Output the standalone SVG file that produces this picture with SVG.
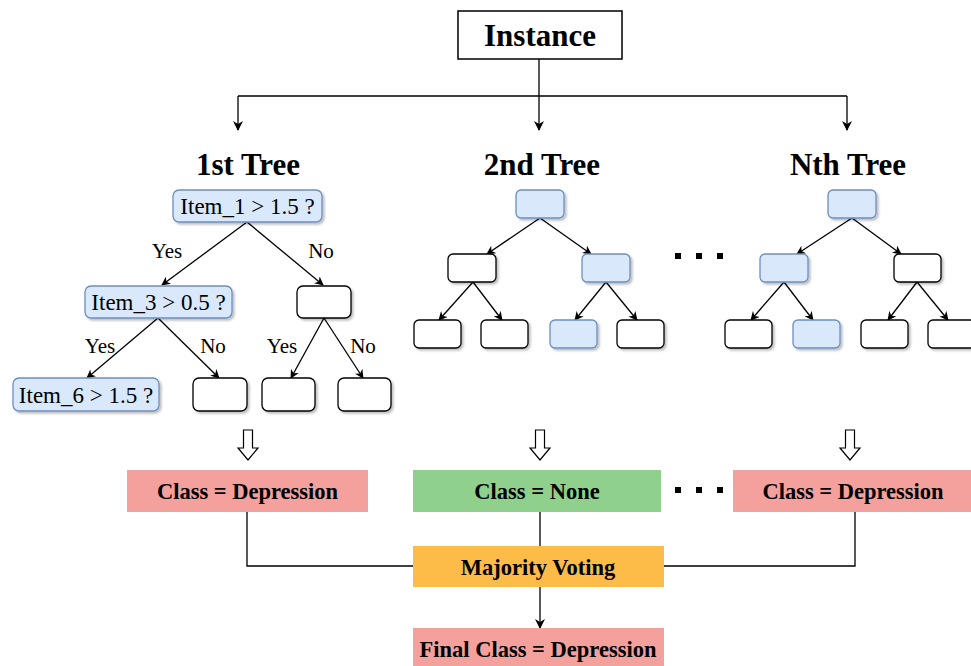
<svg xmlns="http://www.w3.org/2000/svg" width="971" height="666" viewBox="0 0 971 666">
<defs>
<filter id="sh" x="-20%" y="-20%" width="150%" height="150%">
<feDropShadow dx="2" dy="2" stdDeviation="1" flood-color="#000" flood-opacity="0.25"/>
</filter>
<marker id="ar" viewBox="0 0 10 10" refX="9" refY="5" markerWidth="10" markerHeight="10" markerUnits="userSpaceOnUse" orient="auto">
<path d="M0,0 L10,5 L0,10 L3,5 Z" fill="#000"/>
</marker>
<marker id="ar2" viewBox="0 0 10 10" refX="9" refY="5" markerWidth="9" markerHeight="9" markerUnits="userSpaceOnUse" orient="auto">
<path d="M0,0 L10,5 L0,10 L3,5 Z" fill="#000"/>
</marker>
</defs>
<style>
text{font-family:"Liberation Serif","Times New Roman",serif;fill:#000}
.title{font-size:31px;font-weight:bold;text-anchor:middle}
.q{font-size:23px;text-anchor:middle}
.lbl{font-size:21px;text-anchor:middle}
.cls{font-size:22.5px;font-weight:bold;text-anchor:middle}
.blue{fill:#dae8fc;stroke:#6c8ebf;stroke-width:1.3;filter:url(#sh)}
.white{fill:#fff;stroke:#000;stroke-width:1.3;filter:url(#sh)}
.edge{fill:none;stroke:#000;stroke-width:1.3;marker-end:url(#ar2)}
.line{fill:none;stroke:#000;stroke-width:1.3}
.hollow{fill:#fff;stroke:#000;stroke-width:1.2}
.dot{fill:#000}
</style>
<rect width="971" height="666" fill="#fff"/>

<g id="instance">
<rect x="458" y="11" width="164" height="48" fill="#fff" stroke="#000" stroke-width="1.5"/>
<text x="540" y="46" font-size="31" font-weight="bold" text-anchor="middle">Instance</text>
</g>

<g id="titles">
<text class="title" x="248" y="175">1st Tree</text>
<text class="title" x="542" y="175">2nd Tree</text>
<text class="title" x="848" y="175">Nth Tree</text>
</g>

<g id="connectors">
<path class="line" d="M539,59 V96 M238,96 H847"/>
<path class="line" d="M238,96 V130" marker-end="url(#ar)"/>
<path class="line" d="M539,96 V130" marker-end="url(#ar)"/>
<path class="line" d="M847,96 V130" marker-end="url(#ar)"/>
<!-- tree 1 -->
<path class="edge" d="M247,222 L162,285"/>
<path class="edge" d="M247,222 L323,285"/>
<path class="edge" d="M158,318 L87,378"/>
<path class="edge" d="M158,318 L219,378"/>
<path class="edge" d="M324,318 L291,378"/>
<path class="edge" d="M324,318 L363,378"/>
<!-- tree 2 -->
<path class="edge" d="M540,218 L487,254"/>
<path class="edge" d="M540,218 L591,254"/>
<path class="edge" d="M473,282 L439,320"/>
<path class="edge" d="M473,282 L502,320"/>
<path class="edge" d="M606,282 L575,320"/>
<path class="edge" d="M606,282 L637,320"/>
<!-- tree N -->
<path class="edge" d="M852,218 L797,254"/>
<path class="edge" d="M852,218 L901,254"/>
<path class="edge" d="M784,282 L751,320"/>
<path class="edge" d="M784,282 L813,320"/>
<path class="edge" d="M917,282 L888,320"/>
<path class="edge" d="M917,282 L948,320"/>
<!-- voting -->
<path class="line" d="M247,512 V566 H413"/>
<path class="line" d="M540,512 V546"/>
<path class="line" d="M855,512 V566 H664"/>
<path class="line" d="M540,587 V628" marker-end="url(#ar)"/>
</g>

<g id="edge-labels">
<text class="lbl" x="167" y="258">Yes</text>
<text class="lbl" x="321" y="258">No</text>
<text class="lbl" x="100" y="353">Yes</text>
<text class="lbl" x="213" y="353">No</text>
<text class="lbl" x="282" y="353">Yes</text>
<text class="lbl" x="363" y="353">No</text>
</g>

<g id="tree1">
<g id="t1-item1"><rect class="blue" x="173" y="190" width="149" height="32" rx="6"/><text class="q" x="247.5" y="214">Item_1 &gt; 1.5 ?</text></g>
<g id="t1-item3"><rect class="blue" x="85" y="286" width="147" height="32" rx="6"/><text class="q" x="158.5" y="310">Item_3 &gt; 0.5 ?</text></g>
<g id="t1-no"><rect class="white" x="297" y="286" width="54" height="32" rx="6"/></g>
<g id="t1-item6"><rect class="blue" x="13" y="378" width="146" height="33" rx="6"/><text class="q" x="86" y="402.5">Item_6 &gt; 1.5 ?</text></g>
<g id="t1-l2"><rect class="white" x="193" y="378" width="54" height="33" rx="6"/></g>
<g id="t1-l3"><rect class="white" x="262" y="378" width="53" height="33" rx="6"/></g>
<g id="t1-l4"><rect class="white" x="338" y="378" width="53" height="33" rx="6"/></g>
</g>

<g id="tree2">
<g id="t2-root"><rect class="blue" x="516" y="190" width="48" height="28" rx="5"/></g>
<g id="t2-a"><rect class="white" x="448" y="254" width="48" height="28" rx="5"/></g>
<g id="t2-b"><rect class="blue" x="582" y="254" width="48" height="28" rx="5"/></g>
<g id="t2-c"><rect class="white" x="414" y="320" width="47" height="28" rx="5"/></g>
<g id="t2-d"><rect class="white" x="481" y="320" width="47" height="28" rx="5"/></g>
<g id="t2-e"><rect class="blue" x="550" y="320" width="47" height="28" rx="5"/></g>
<g id="t2-f"><rect class="white" x="617" y="320" width="47" height="28" rx="5"/></g>
</g>

<g id="dots1">
<rect class="dot" x="675" y="253" width="6" height="6"/>
<rect class="dot" x="696" y="253" width="6" height="6"/>
<rect class="dot" x="717" y="253" width="6" height="6"/>
</g>

<g id="treeN">
<g id="tn-root"><rect class="blue" x="828" y="190" width="48" height="28" rx="5"/></g>
<g id="tn-a"><rect class="blue" x="760" y="254" width="48" height="28" rx="5"/></g>
<g id="tn-b"><rect class="white" x="894" y="254" width="47" height="28" rx="5"/></g>
<g id="tn-c"><rect class="white" x="725" y="320" width="47" height="28" rx="5"/></g>
<g id="tn-d"><rect class="blue" x="793" y="320" width="47" height="28" rx="5"/></g>
<g id="tn-e"><rect class="white" x="861" y="320" width="47" height="28" rx="5"/></g>
<g id="tn-f"><rect class="white" x="928" y="320" width="47" height="28" rx="5"/></g>
</g>

<g id="hollow-arrows">
<path class="hollow" d="M243.5,430 H252.5 V448 H258 L248,460 L238,448 H243.5 Z"/>
<path class="hollow" d="M535.5,430 H544.5 V448 H550 L540,460 L530,448 H535.5 Z"/>
<path class="hollow" d="M845.5,430 H854.5 V448 H860 L850,460 L840,448 H845.5 Z"/>
</g>

<g id="class1"><rect x="127" y="470" width="241" height="42" fill="#f4a19e"/><text class="cls" x="247.5" y="499">Class = Depression</text></g>
<g id="class2"><rect x="413" y="470" width="248" height="42" fill="#8ed08c"/><text class="cls" x="537" y="499">Class = None</text></g>
<g id="dots2">
<rect class="dot" x="675" y="487" width="6" height="6"/>
<rect class="dot" x="696" y="487" width="6" height="6"/>
<rect class="dot" x="717" y="487" width="6" height="6"/>
</g>
<g id="classN"><rect x="733" y="470" width="238" height="42" fill="#f4a19e"/><text class="cls" x="853" y="499">Class = Depression</text></g>
<g id="voting"><rect x="413" y="546" width="251" height="41" fill="#fdbb47"/><text class="cls" x="538" y="575">Majority Voting</text></g>
<g id="final"><rect x="413" y="628" width="251" height="40" fill="#f4a19e"/><text class="cls" x="538" y="657">Final Class = Depression</text></g>
</svg>
